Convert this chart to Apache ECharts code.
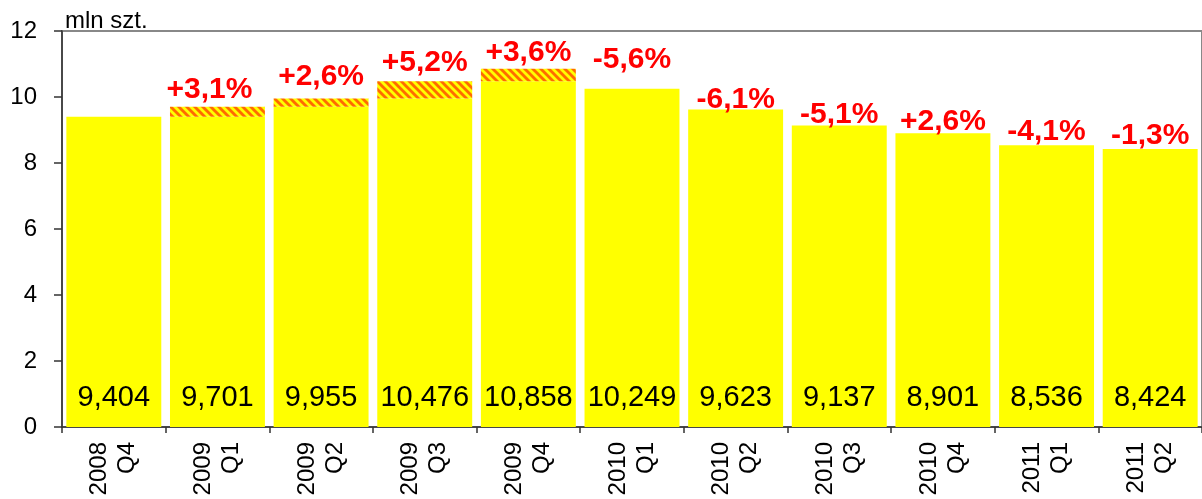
<!DOCTYPE html>
<html>
<head>
<meta charset="utf-8">
<script src="https://cdn.jsdelivr.net/npm/echarts@6/dist/echarts.min.js"></script>
<style>
html,body{margin:0;padding:0;background:#fff;}
#c{width:1202px;height:499px;}
</style>
</head>
<body>
<div id="c"></div>
<script>
// ---- data ----
const categories = ['2008\nQ4','2009\nQ1','2009\nQ2','2009\nQ3','2009\nQ4','2010\nQ1','2010\nQ2','2010\nQ3','2010\nQ4','2011\nQ1','2011\nQ2'];
const values = [9.404, 9.701, 9.955, 10.476, 10.858, 10.249, 9.623, 9.137, 8.901, 8.536, 8.424];
const changeLabels = ['', '+3,1%', '+2,6%', '+5,2%', '+3,6%', '-5,6%', '-6,1%', '-5,1%', '+2,6%', '-4,1%', '-1,3%'];
const yTicks = [0, 2, 4, 6, 8, 10, 12];
const unitLabel = 'mln szt.';

// ---- derived stacks: yellow base up to previous level, hatched increment ----
const baseData = values.map((v, i) => i === 0 ? v : Math.min(v, values[i - 1]));
const incData = values.map((v, i) => i === 0 ? 0 : Math.max(0, +(v - values[i - 1]).toFixed(3)));

// ---- style ----
const FONT = '"Liberation Sans", Arial, sans-serif';
const labelDistance = [0, 2, 7, 4, 1, 14, -5, -4, -3, -1, -2];
const labelShiftX = [0, -8, 0, 0, 0, 0, 0, 0, 0, 0, 0];

function hatch() {
  const n = 8;
  const cv = document.createElement('canvas');
  cv.width = n; cv.height = n;
  const g = cv.getContext('2d');
  g.fillStyle = '#FFFF00';
  g.fillRect(0, 0, n, n);
  g.strokeStyle = '#FF6A00';
  g.lineWidth = n * 0.36;
  for (const o of [-n, 0, n]) {
    g.beginPath();
    g.moveTo(o - 1, -1);
    g.lineTo(o + n + 1, n + 1);
    g.stroke();
  }
  return cv;
}

const chart = echarts.init(document.getElementById('c'), null, {renderer: 'canvas'});
chart.setOption({
  animation: false,
  backgroundColor: '#fff',
  grid: {left: 62, top: 31, width: 1152, height: 396, show: true, borderColor: '#888', borderWidth: 2, backgroundColor: 'transparent'},
  xAxis: {
    type: 'category',
    data: categories,
    axisLine: {lineStyle: {color: '#333', width: 1.5}},
    axisTick: {show: true, length: 6, lineStyle: {color: '#333', width: 1.5}},
    axisLabel: {interval: 0, rotate: 90, fontSize: 24, lineHeight: 28, margin: 15, color: '#000', fontFamily: FONT}
  },
  yAxis: {
    type: 'value',
    min: yTicks[0],
    max: yTicks[yTicks.length - 1],
    interval: yTicks[1] - yTicks[0],
    splitLine: {show: false},
    axisLine: {show: true, lineStyle: {color: '#333', width: 1.5}},
    axisTick: {show: true, length: 8, lineStyle: {color: '#333', width: 1.5}},
    axisLabel: {fontSize: 24, margin: 25, color: '#000', fontFamily: FONT}
  },
  graphic: [{
    type: 'text',
    left: 65,
    top: 9,
    style: {text: unitLabel, fontSize: 24, fontFamily: FONT, fill: '#000'}
  }],
  series: [
    {
      type: 'bar',
      stack: 'v',
      data: baseData,
      barCategoryGap: '8.4%',
      itemStyle: {color: '#FFFF00'},
      label: {
        show: true,
        position: 'insideBottom',
        distance: 15,
        fontSize: 29,
        fontFamily: FONT,
        color: '#000',
        formatter: p => values[p.dataIndex].toFixed(3).replace('.', ',')
      }
    },
    {
      type: 'bar',
      stack: 'v',
      data: incData.map((v, i) => ({
        value: v,
        label: {distance: labelDistance[i], offset: [labelShiftX[i], 0]}
      })),
      barCategoryGap: '8.4%',
      itemStyle: {color: {image: hatch(), repeat: 'repeat'}},
      label: {
        show: true,
        position: 'top',
        fontSize: 30,
        fontWeight: 'bold',
        fontFamily: FONT,
        color: '#FF0000',
        formatter: p => changeLabels[p.dataIndex]
      }
    }
  ]
});
</script>
</body>
</html>
